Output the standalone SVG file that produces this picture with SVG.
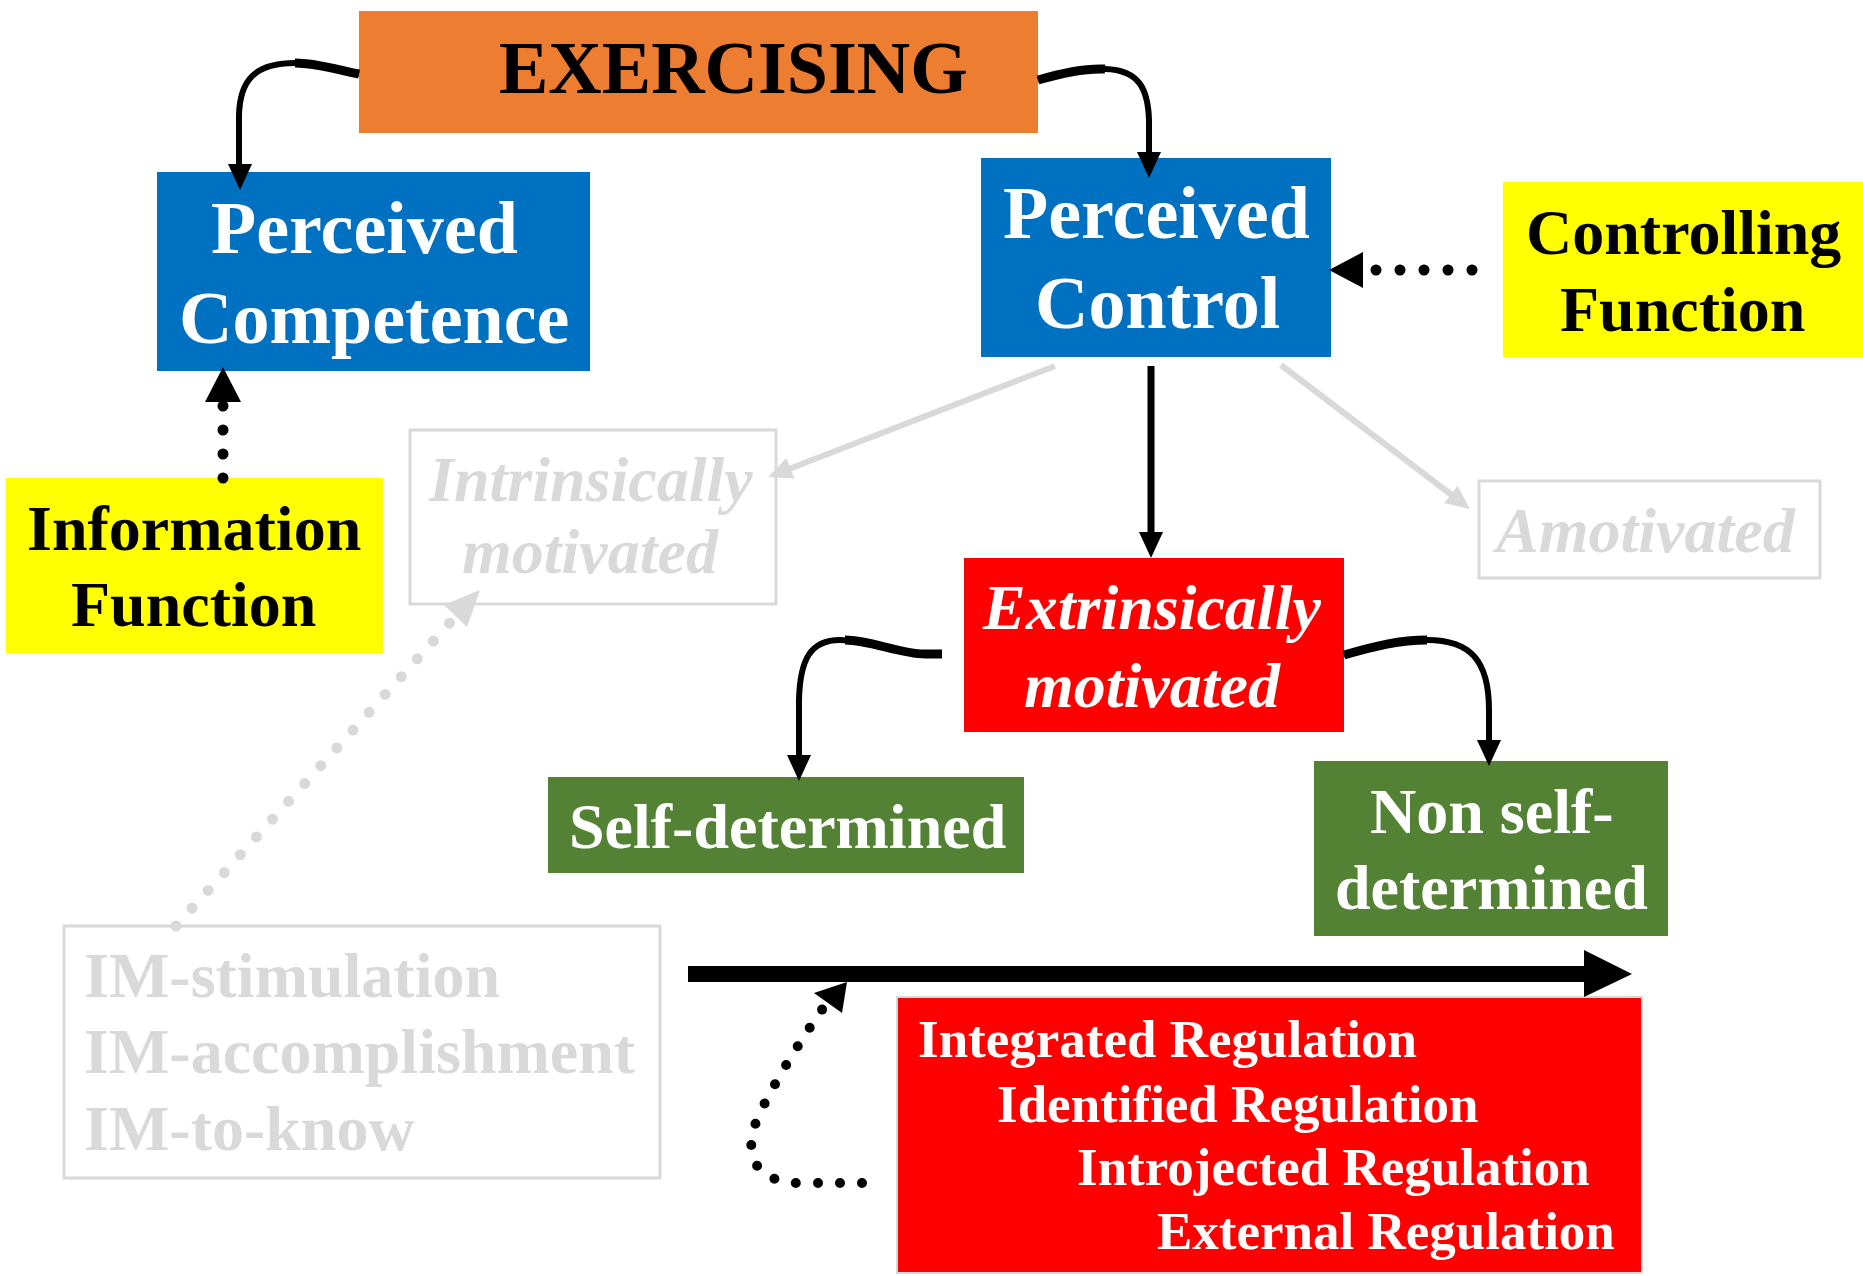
<svg xmlns="http://www.w3.org/2000/svg" width="1863" height="1276" viewBox="0 0 1863 1276">
<style>
text{font-family:"Liberation Serif","Times New Roman",serif;font-weight:bold}
.w{fill:#fff}
.k{fill:#000}
.g{fill:#d9d9d9}
.it{font-style:italic}
.f74{font-size:74px}
.f64{font-size:64px}
.f53{font-size:53px}
.ln{fill:none;stroke:#000;stroke-width:6;stroke-linecap:butt}
.thick{fill:none;stroke:#000;stroke-width:9}
.dots{fill:none;stroke:#000;stroke-width:11;stroke-linecap:round;stroke-dasharray:0 24}
.gdots{fill:none;stroke:#d9d9d9;stroke-width:11;stroke-linecap:round;stroke-dasharray:0 24}
.gl{fill:none;stroke:#d9d9d9;stroke-width:6}
.gbox{fill:none;stroke:#d9d9d9;stroke-width:3}
</style>
<rect width="1863" height="1276" fill="#fff"/>

<g id="exercising">
  <rect x="359" y="11" width="679" height="122" fill="#ED7D31"/>
  <text class="k f74" x="499" y="93">EXERCISING</text>
</g>

<g id="perceived-competence">
  <rect x="157" y="172" width="433" height="199" fill="#0070C0"/>
  <text class="w f74" x="211" y="253">Perceived</text>
  <text class="w f74" x="179" y="343">Competence</text>
</g>

<g id="perceived-control">
  <rect x="981" y="158" width="350" height="199" fill="#0070C0"/>
  <text class="w f74" x="1003" y="238">Perceived</text>
  <text class="w f74" x="1035" y="328">Control</text>
</g>

<g id="controlling-function">
  <rect x="1503" y="182" width="360" height="175" fill="#FFFF00"/>
  <text class="k f64" x="1526" y="254">Controlling</text>
  <text class="k f64" x="1560" y="331">Function</text>
</g>

<g id="information-function">
  <rect x="6" y="478" width="377" height="175" fill="#FFFF00"/>
  <text class="k f64" x="27" y="550">Information</text>
  <text class="k f64" x="71" y="626">Function</text>
</g>

<g id="intrinsically-motivated">
  <rect class="gbox" x="410" y="430" width="366" height="174"/>
  <text class="g f64 it" x="429" y="501">Intrinsically</text>
  <text class="g f64 it" x="462" y="573">motivated</text>
</g>

<g id="amotivated">
  <rect class="gbox" x="1479" y="481" width="341" height="97"/>
  <text class="g f64 it" x="1496" y="552">Amotivated</text>
</g>

<g id="extrinsically-motivated">
  <rect x="964" y="558" width="380" height="174" fill="#FF0000"/>
  <text class="w f64 it" x="983" y="629">Extrinsically</text>
  <text class="w f64 it" x="1024" y="707">motivated</text>
</g>

<g id="self-determined">
  <rect x="548" y="777" width="476" height="96" fill="#548235"/>
  <text class="w f64" x="569" y="848">Self-determined</text>
</g>

<g id="non-self-determined">
  <rect x="1314" y="761" width="354" height="175" fill="#548235"/>
  <text class="w f64" x="1370" y="833">Non self-</text>
  <text class="w f64" x="1335" y="909">determined</text>
</g>

<g id="im-types">
  <rect class="gbox" x="64" y="926" width="596" height="252"/>
  <text class="g f64" x="84" y="997">IM-stimulation</text>
  <text class="g f64" x="84" y="1073">IM-accomplishment</text>
  <text class="g f64" x="84" y="1150">IM-to-know</text>
</g>

<g id="regulations">
  <rect x="897" y="997" width="745" height="276" fill="#FF0000" stroke="#d9d9d9" stroke-width="2"/>
  <text class="w f53" x="918" y="1057">Integrated Regulation</text>
  <text class="w f53" x="997" y="1122">Identified Regulation</text>
  <text class="w f53" x="1077" y="1185">Introjected Regulation</text>
  <text class="w f53" x="1157" y="1249">External Regulation</text>
</g>

<g id="connectors">
  <!-- EXERCISING -> Perceived Competence -->
  <path class="ln" d="M359 74 C335 69 315 63 295 63 C255 63 240 80 239 115 L239 168"/>
  <path class="thick" d="M359 74 C335 69 315 63 295 63"/>
  <polygon points="240,190 228,164 252,164"/>
  <!-- EXERCISING -> Perceived Control -->
  <path class="ln" d="M1038 80 C1065 72 1085 68 1105 69 C1140 70 1148 90 1149 120 L1149 156"/>
  <path class="thick" d="M1038 80 C1065 72 1085 68 1105 69"/>
  <polygon points="1149,178 1137,152 1161,152"/>
  <!-- Controlling Function -> Perceived Control -->
  <path class="dots" d="M1472 270 L1370 270"/>
  <polygon points="1329,270 1363,252 1363,288"/>
  <!-- Information Function -> Perceived Competence -->
  <path class="dots" d="M223 478 L223 404"/>
  <polygon points="223,367 205,402 241,402"/>
  <!-- Perceived Control -> Extrinsically motivated -->
  <path d="M1151 366 L1151 536" stroke="#000" stroke-width="7" fill="none"/>
  <polygon points="1151,558 1139,532 1163,532"/>
  <!-- Perceived Control -> Intrinsically (gray) -->
  <path class="gl" d="M1055 366 L789 469"/>
  <polygon points="768,477 794.4,478.6 786.4,458" fill="#d9d9d9"/>
  <!-- Perceived Control -> Amotivated (gray) -->
  <path class="gl" d="M1281 365 L1453 496"/>
  <polygon points="1470,509 1444.2,503.2 1457.6,485.8" fill="#d9d9d9"/>
  <!-- IM box -> Intrinsically (gray dotted) -->
  <path class="gdots" d="M176 926 L456 616"/>
  <polygon points="480,590 444,605 467,627" fill="#d9d9d9"/>
  <!-- Extrinsically -> Self-determined -->
  <path class="ln" d="M942 654 L925 654 C900 654 870 640 840 640 C810 640 800 660 799 700 L799 758"/>
  <path class="thick" d="M942 654 L925 654 C900 654 870 640 845 640"/>
  <polygon points="799,781 787,755 811,755"/>
  <!-- Extrinsically -> Non self-determined -->
  <path class="ln" d="M1344 655 C1375 646 1400 640 1427 640 C1470 640 1489 660 1489 710 L1489 743"/>
  <path class="thick" d="M1344 655 C1375 646 1400 640 1427 640"/>
  <polygon points="1489,766 1477,740 1501,740"/>
  <!-- main continuum arrow -->
  <rect x="688" y="966" width="898" height="16" fill="#000"/>
  <polygon points="1584,950 1632,974 1584,997"/>
  <!-- Regulation -> continuum (dotted) -->
  <path class="dots" style="stroke-width:10;stroke-dasharray:0 22" d="M862 1183 L800 1183 C762 1183 744 1162 754 1128 C760 1108 790 1055 826 1004"/>
  <polygon points="847,982 814,993 842,1013"/>
</g>
</svg>
